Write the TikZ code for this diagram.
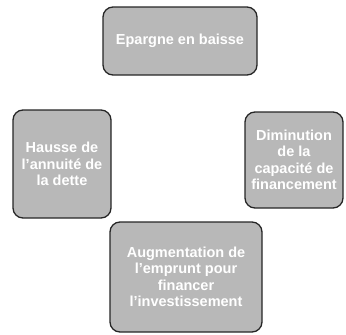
\documentclass[tikz,border=0pt]{standalone}
\usepackage{fontspec}
\setmainfont{Liberation Sans}
\begin{document}
\begin{tikzpicture}[x=1pt, y=-1pt,
  cyclebox/.style={draw=black!85, line width=1.3pt, fill=black!28, rectangle,
                   rounded corners=10pt, align=center, text=white,
                   font=\bfseries\fontsize{14.5}{16.5}\selectfont, inner sep=2pt}
]
\useasboundingbox (0,0) rectangle (346,335);
\node[cyclebox, minimum width=154pt, minimum height=68pt] (epargne) at (180,41) {Epargne en baisse};
\node[cyclebox, minimum width=98pt, minimum height=108pt] (annuite) at (62,164) {Hausse de\\l'annuité de\\la dette};
\node[cyclebox, minimum width=98pt, minimum height=96pt] (capacite) at (294,160) {Diminution\\de la\\capacité de\\financement};
\node[cyclebox, minimum width=152pt, minimum height=110pt] (emprunt) at (186,277) {Augmentation de\\l'emprunt pour\\financer\\l'investissement};
\end{tikzpicture}
\end{document}
